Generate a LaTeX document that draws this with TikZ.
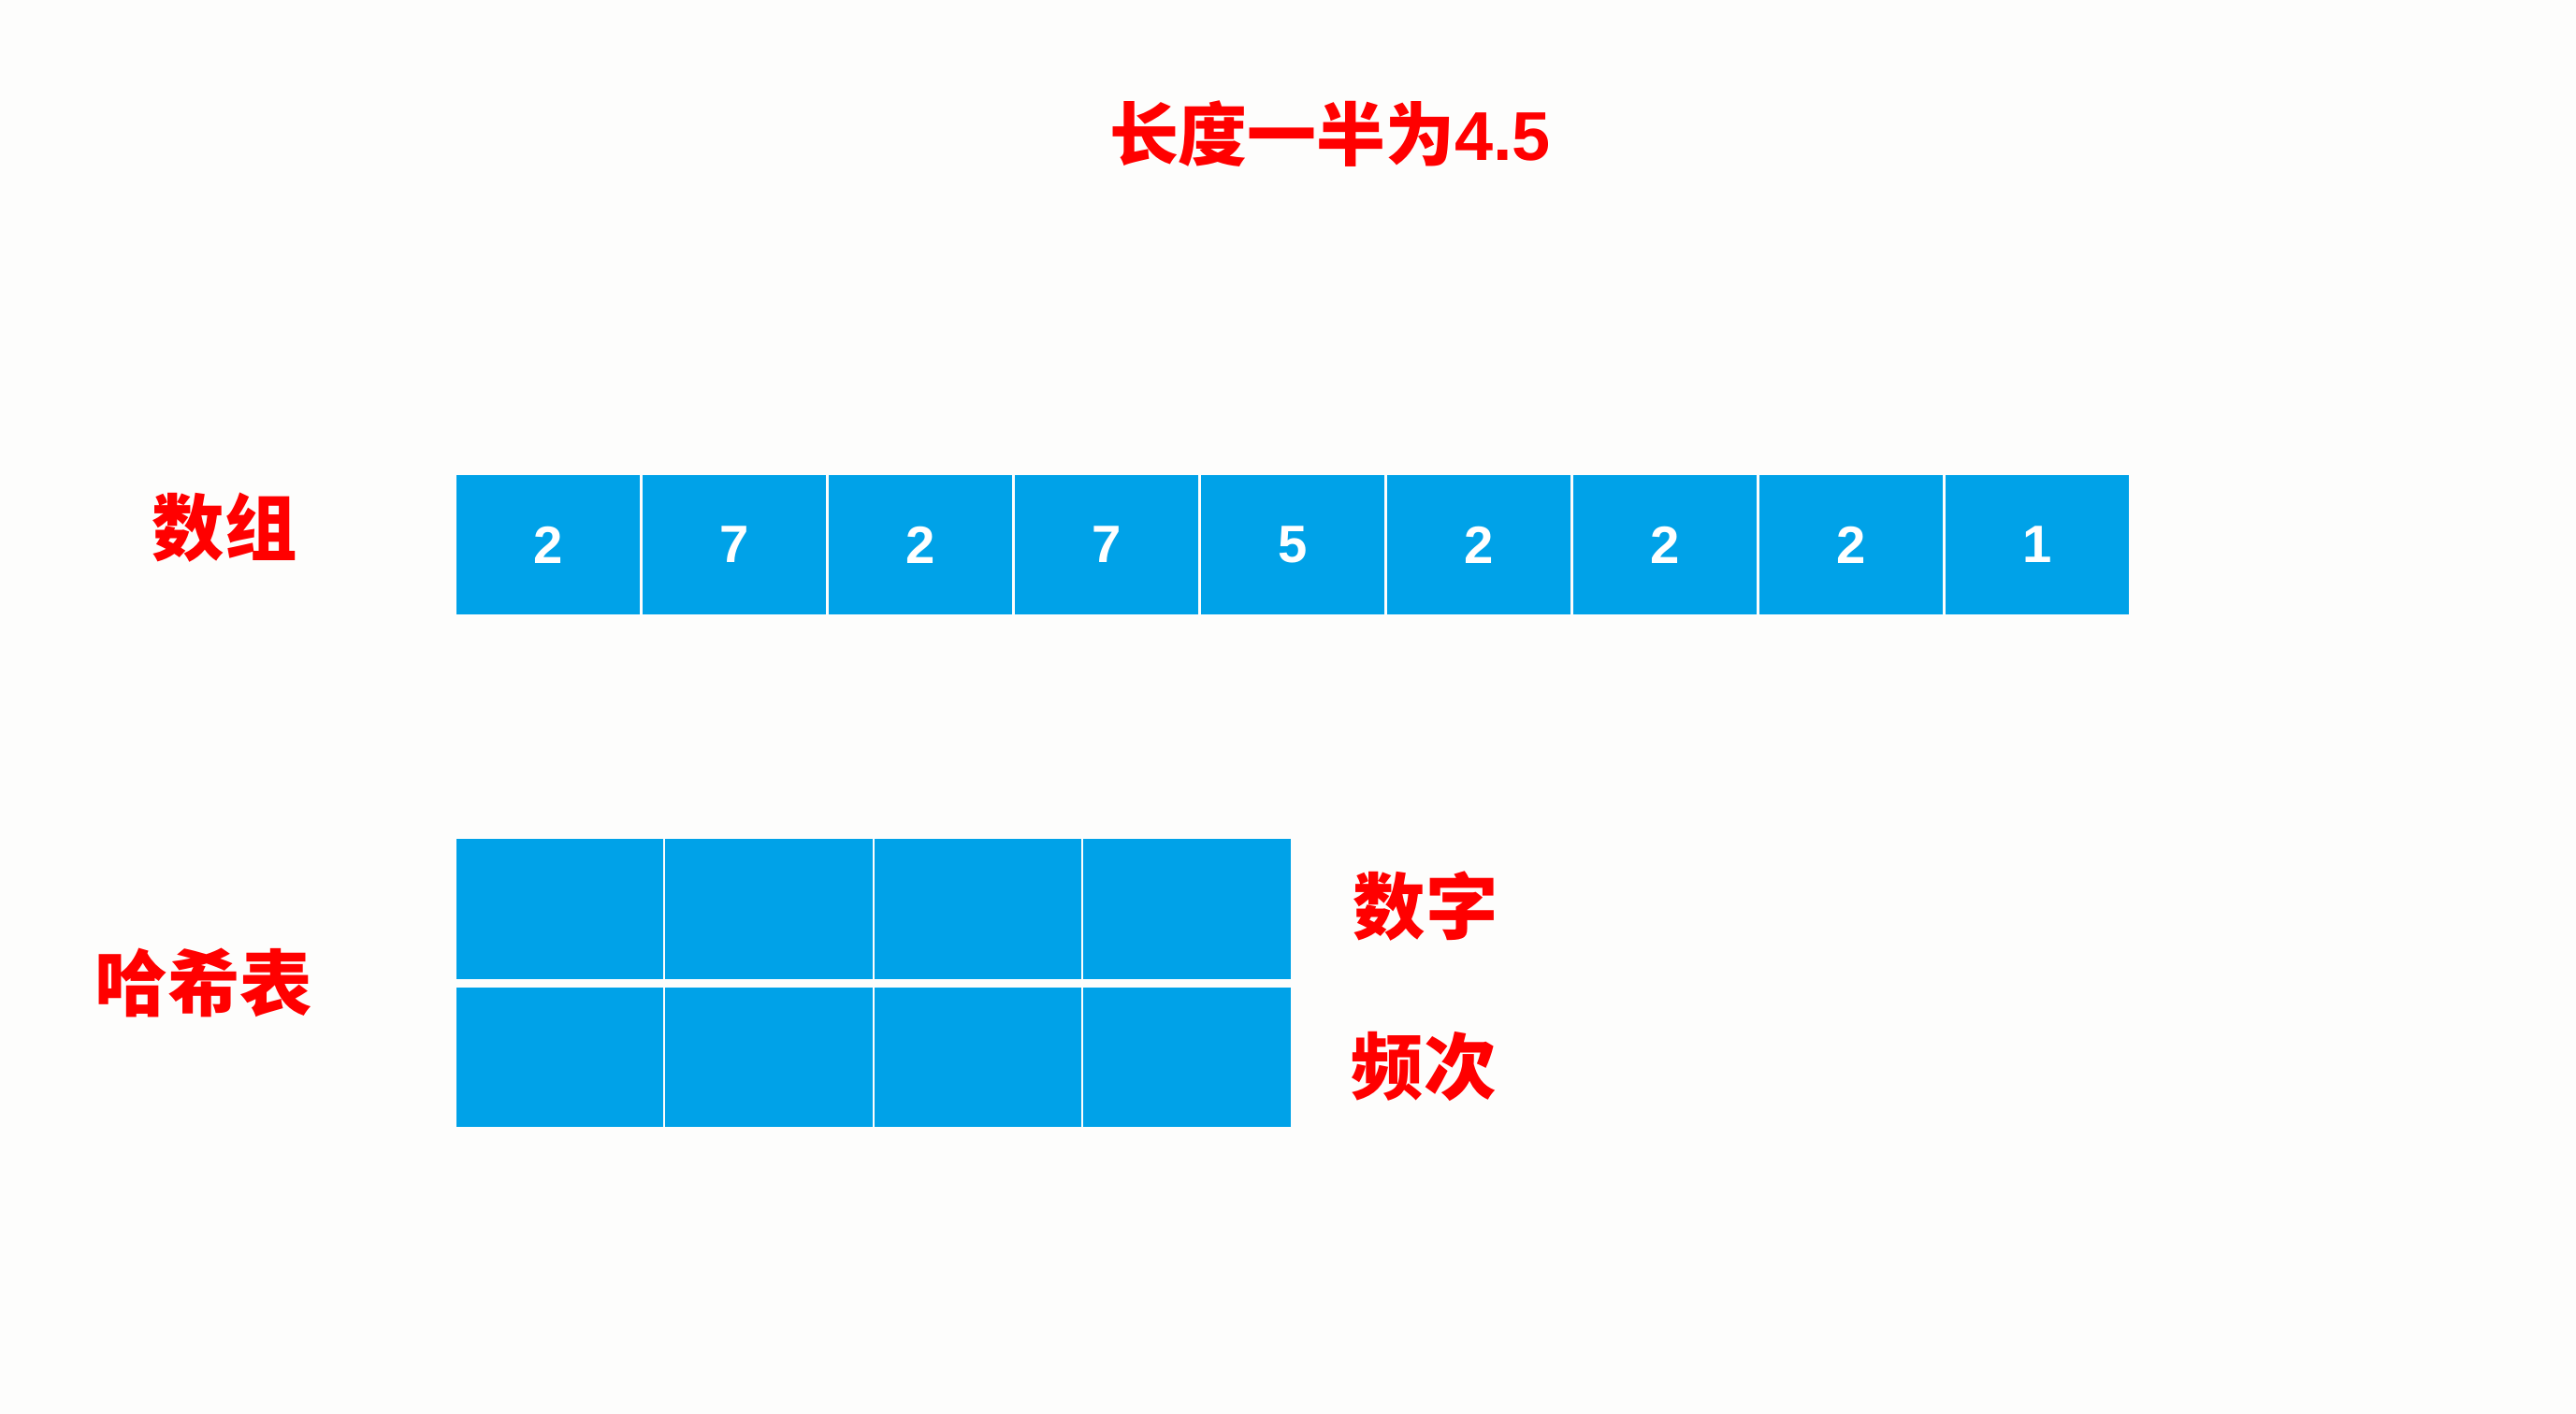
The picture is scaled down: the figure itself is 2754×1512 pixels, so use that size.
\documentclass[tikz,border=0pt]{standalone}
\usepackage{fontspec}
\setmainfont{Liberation Sans}
\newfontfamily\cjk{Noto Sans CJK SC}
\definecolor{cellblue}{RGB}{0,162,232}
\definecolor{bgcol}{RGB}{253,253,252}
\definecolor{lblred}{RGB}{255,0,0}
\tikzset{
  arrcell/.style={fill=cellblue, draw=none, minimum width=1.96cm, minimum height=1.49cm, inner sep=0pt,
    text=white, font=\bfseries\fontsize{16}{18}\selectfont},
  hashcell/.style={fill=cellblue, draw=none, minimum width=2.21cm, minimum height=1.50cm, inner sep=0pt},
  lbl/.style={text=lblred, font=\cjk\bfseries\fontsize{22}{26}\selectfont, inner sep=0pt}
}
\begin{document}
\begin{tikzpicture}[x=0.01cm, y=-0.01cm]
\fill[bgcol] (0,0) rectangle (2754,1512);
\useasboundingbox (0,0) rectangle (2754,1512);
\node[lbl, font=\cjk\bfseries\fontsize{21}{25}\selectfont] (title) at (1422,143) {长度一半为\fontspec{Liberation Sans}\bfseries 4.5};
\node[lbl] (arrlbl) at (240,564) {数组};
\node[lbl] (hashlbl) at (218,1051) {哈希表};
\node[lbl] (numlbl) at (1524,969) {数字};
\node[lbl] (freqlbl) at (1522,1140) {频次};
\foreach \v [count=\i from 0] in {2,7,2,7,5,2,2,2,1} {
  \node[arrcell] (a\i) at ({488+\i*199+98},582.5) {\raisebox{-0.6mm}{\v}};
}
\foreach \i in {0,1,2,3} {
  \node[hashcell] (k\i) at ({488+\i*223.5+110.5},972) {};
  \node[hashcell, minimum height=1.49cm] (f\i) at ({488+\i*223.5+110.5},1130.5) {};
}
\end{tikzpicture}
\end{document}
